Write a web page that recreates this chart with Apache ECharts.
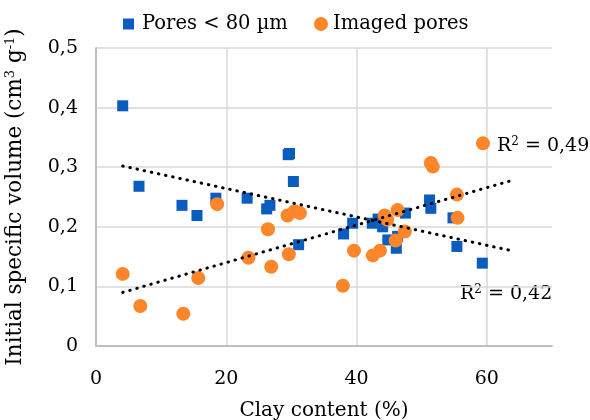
<!DOCTYPE html>
<html>
<head>
<meta charset="utf-8">
<script src="https://cdn.jsdelivr.net/npm/echarts@6/dist/echarts.min.js"></script>
<style>
  html, body { margin: 0; padding: 0; background: #fff; }
  #chart { width: 590px; height: 420px; }
</style>
</head>
<body>
<div id="chart"></div>
<script>
// clay content (%) and initial specific volume (cm3/g)
const clayPores = [4.1, 6.6, 13.2, 15.5, 18.4, 23.2, 26.2, 26.7, 29.5, 29.7, 30.3, 31.1, 38.0, 39.4, 42.4, 43.3, 44.0, 44.8, 46.1, 46.3, 47.5, 51.2, 51.4, 54.8, 55.4, 59.3];
const volPores = [0.403, 0.268, 0.236, 0.219, 0.248, 0.248, 0.230, 0.236, 0.321, 0.323, 0.276, 0.170, 0.188, 0.206, 0.206, 0.213, 0.200, 0.178, 0.164, 0.184, 0.223, 0.245, 0.231, 0.215, 0.167, 0.139];

const clayImaged = [4.1, 6.8, 13.4, 15.7, 18.6, 23.4, 26.4, 26.9, 29.4, 29.6, 30.5, 31.3, 37.9, 39.6, 42.5, 43.6, 44.3, 44.7, 46.0, 46.3, 47.4, 51.4, 51.7, 55.4, 55.5, 59.4];
const volImaged = [0.121, 0.067, 0.054, 0.114, 0.238, 0.148, 0.196, 0.133, 0.219, 0.154, 0.226, 0.223, 0.101, 0.160, 0.152, 0.160, 0.219, 0.212, 0.177, 0.228, 0.192, 0.307, 0.301, 0.254, 0.215, 0.340];

// linear trend lines (end points)
const trendX = [4.1, 64.2];
const trendPores = [0.302, 0.159];
const trendImaged = [0.090, 0.279];

const xTicks = [0, 20, 40, 60];
const r2Pores = '0,42';
const r2Imaged = '0,49';

const FONT = 'DejaVu Serif';
const zip = (xs, ys) => xs.map((x, i) => [x, ys[i]]);

const chart = echarts.init(document.getElementById('chart'));

const dotted = {
  color: '#000',
  width: 3,
  type: [0.5, 6.8],
  cap: 'round'
};

const supStyle = { fontFamily: FONT, fontSize: 13, color: '#000', padding: [0, 0, 9, 0] };

const option = {
  animation: false,
  textStyle: { fontFamily: FONT },
  grid: { left: 96, right: 38, top: 48, bottom: 74, outerBoundsMode: 'none', containLabel: false },
  legend: [
    {
      data: ['Pores < 80 µm'],
      left: 118,
      top: 9,
      itemWidth: 11,
      itemHeight: 11,
      textStyle: { fontFamily: FONT, fontSize: 19.5, color: '#000', padding: [0, 0, 0, 3] }
    },
    {
      data: ['Imaged pores'],
      left: 309,
      top: 9,
      itemWidth: 14,
      itemHeight: 14,
      textStyle: { fontFamily: FONT, fontSize: 19.5, color: '#000' }
    }
  ],
  xAxis: {
    type: 'value',
    min: 0,
    max: 70,
    interval: 20,
    name: 'Clay content (%)',
    nameLocation: 'middle',
    nameGap: 55,
    nameTextStyle: { fontFamily: FONT, fontSize: 20, color: '#000' },
    axisLine: { lineStyle: { color: '#bfbfbf', width: 2 } },
    axisTick: { show: false },
    axisLabel: {
      fontFamily: FONT, fontSize: 19, color: '#000', margin: 24,
      showMaxLabel: false,
      formatter: v => (xTicks.includes(v) ? String(v) : '')
    },
    splitLine: { show: true, showMaxLine: false, lineStyle: { color: '#d9d9d9', width: 1.5 } }
  },
  yAxis: {
    type: 'value',
    min: 0,
    max: 0.5,
    interval: 0.1,
    name: 'Initial specific volume (cm{sup|3} g{sup|-1})',
    nameLocation: 'middle',
    nameGap: 70,
    nameTextStyle: {
      fontFamily: FONT, fontSize: 21.5, color: '#000',
      rich: { sup: supStyle }
    },
    axisLine: { show: true, lineStyle: { color: '#bfbfbf', width: 2 } },
    axisTick: { show: false },
    axisLabel: {
      fontFamily: FONT, fontSize: 19, color: '#000', margin: 18,
      formatter: v => (v === 0 ? '0' : v.toFixed(1).replace('.', ','))
    },
    splitLine: { show: true, lineStyle: { color: '#d9d9d9', width: 1.5 } }
  },
  series: [
    {
      name: 'Pores < 80 µm',
      type: 'scatter',
      symbol: 'rect',
      symbolSize: 11,
      itemStyle: { color: '#0a5cbf', opacity: 1 },
      data: zip(clayPores, volPores),
      z: 2
    },
    {
      name: 'Imaged pores',
      type: 'scatter',
      symbol: 'circle',
      symbolSize: 14,
      itemStyle: { color: '#fd852a', opacity: 1 },
      data: zip(clayImaged, volImaged),
      z: 3
    },
    {
      name: 'trend pores',
      type: 'line',
      showSymbol: false,
      lineStyle: dotted,
      data: zip(trendX, trendPores),
      z: 4
    },
    {
      name: 'trend imaged',
      type: 'line',
      showSymbol: false,
      lineStyle: dotted,
      data: zip(trendX, trendImaged),
      z: 4
    }
  ],
  graphic: [
    {
      type: 'text',
      left: 497,
      top: 136,
      style: {
        text: 'R{sup|2} = ' + r2Imaged,
        font: '19px "DejaVu Serif"',
        fill: '#000',
        rich: { sup: { fontFamily: FONT, fontSize: 12, fill: '#000', padding: [0, 0, 8, 0] } }
      }
    },
    {
      type: 'text',
      left: 460,
      top: 284,
      style: {
        text: 'R{sup|2} = ' + r2Pores,
        font: '19px "DejaVu Serif"',
        fill: '#000',
        rich: { sup: { fontFamily: FONT, fontSize: 12, fill: '#000', padding: [0, 0, 8, 0] } }
      }
    }
  ]
};

chart.setOption(option);
</script>
</body>
</html>
